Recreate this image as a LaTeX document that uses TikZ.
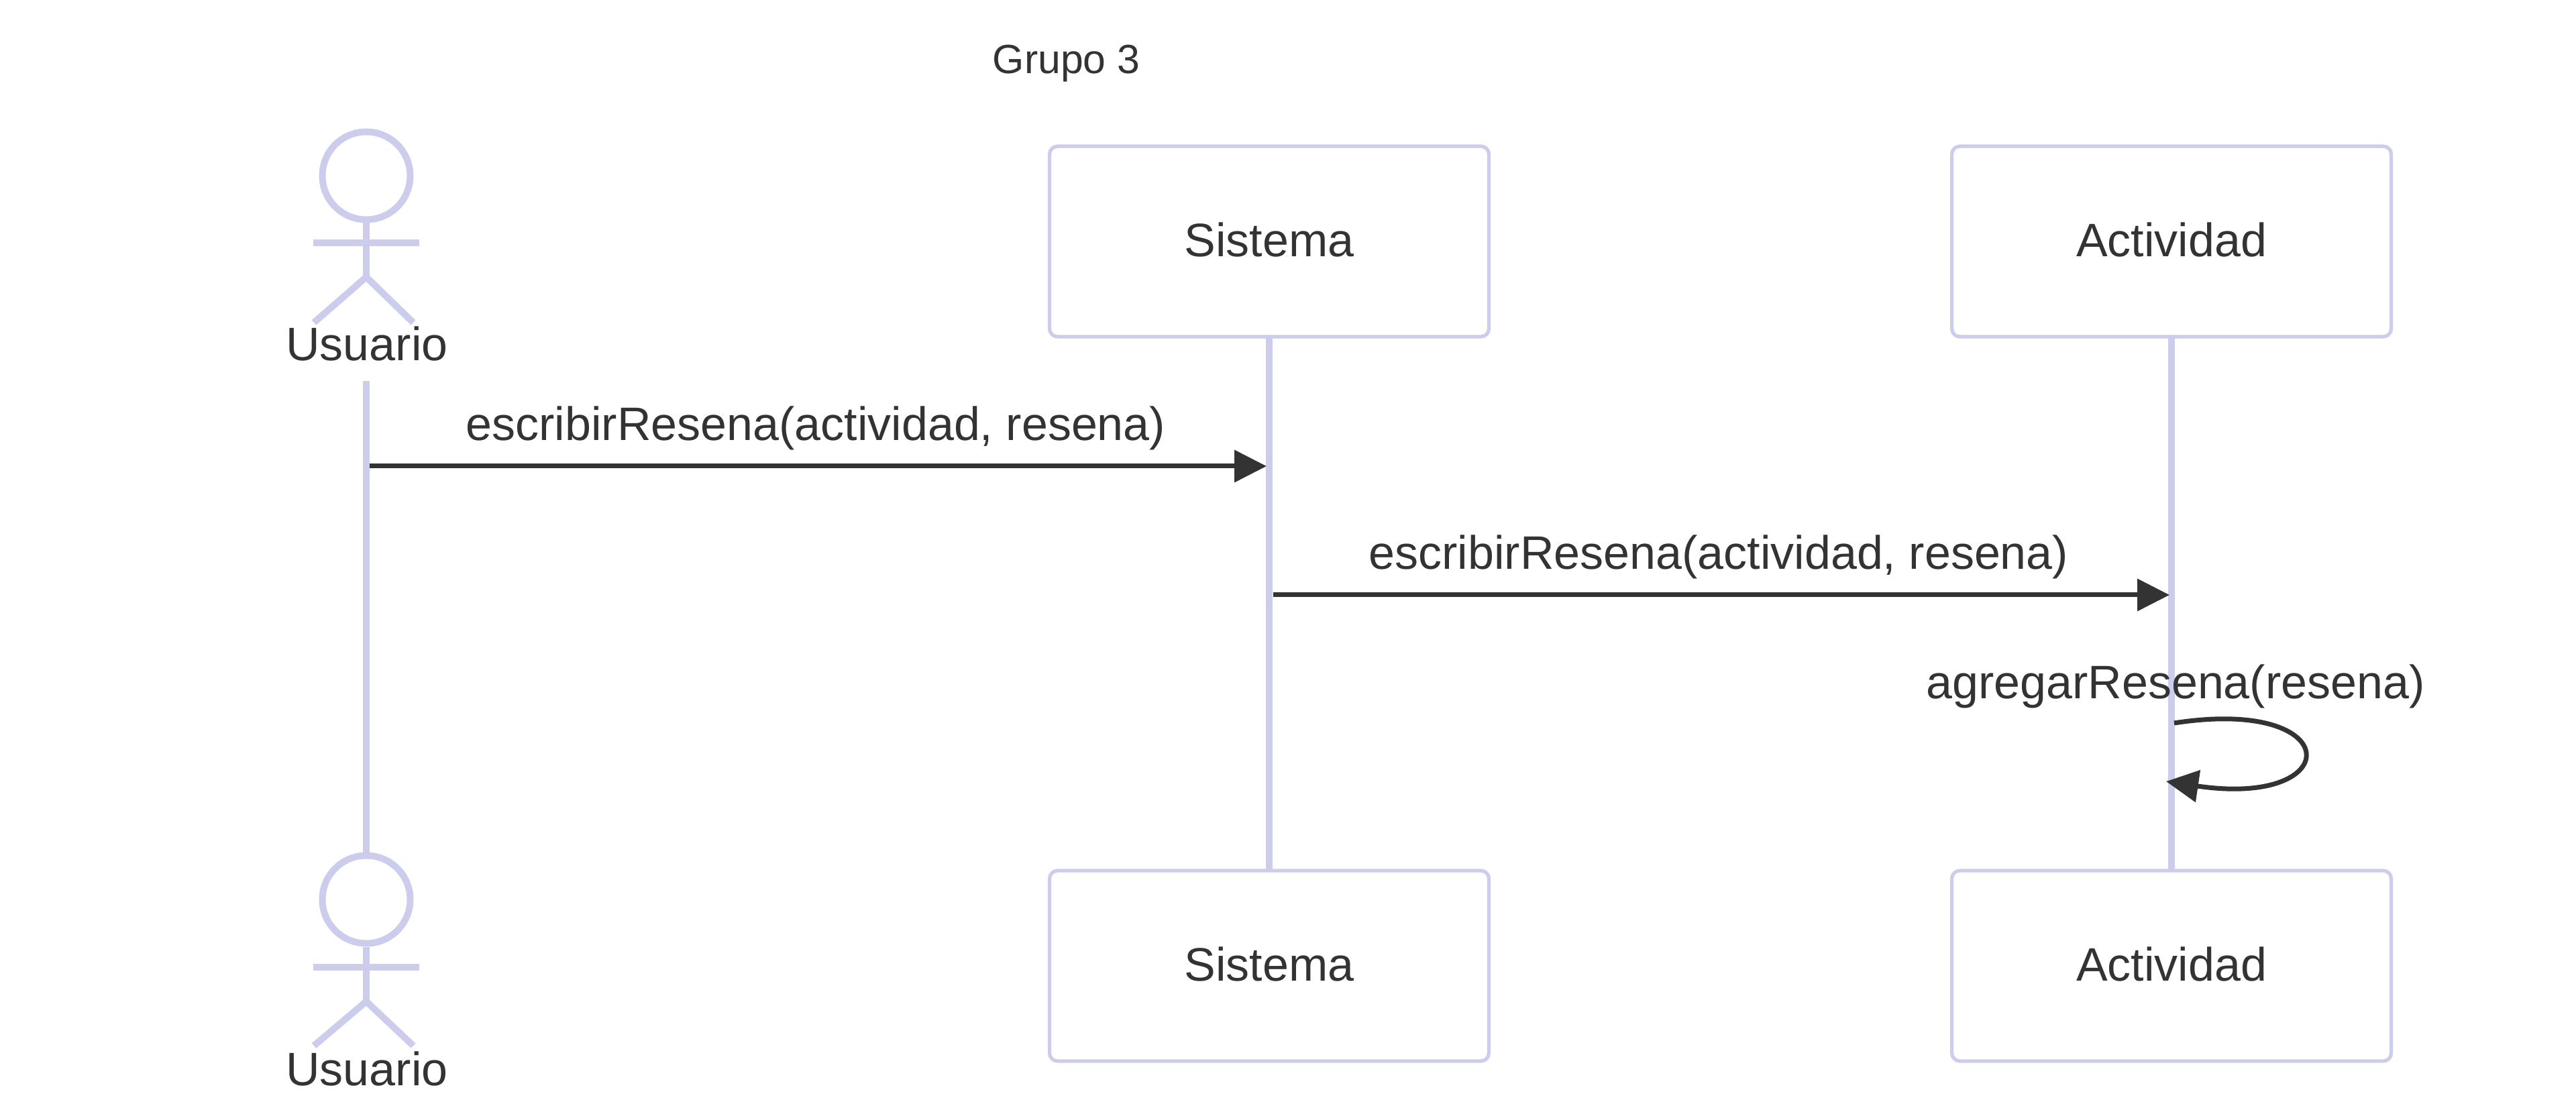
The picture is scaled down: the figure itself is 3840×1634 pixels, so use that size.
\documentclass[tikz,border=0pt]{standalone}
\usepackage{fontspec}
\setmainfont{Liberation Sans}
\usepackage{xcolor}
\usetikzlibrary{arrows.meta}
\definecolor{linea}{HTML}{CCCCEC}
\definecolor{texto}{HTML}{333333}

\begin{document}
\begin{tikzpicture}[
  x=0.25pt, y=-0.25pt,
  box/.style={draw=linea, line width=1.3pt, rounded corners=3pt, fill=white,
              minimum width=163.75pt, minimum height=71pt, inner sep=0pt,
              font=\fontsize{17.5pt}{20pt}\selectfont, text=texto,
              text height=12.5pt, text depth=1.25pt},
  head/.style={circle, draw=linea, line width=2.5pt, fill=white,
               minimum size=32.75pt, inner sep=0pt},
  limb/.style={draw=linea, line width=2.5pt},
  life/.style={draw=linea, line width=2.5pt},
  actorname/.style={anchor=base, inner sep=0pt, text=texto,
                    font=\fontsize{17.5pt}{20pt}\selectfont},
  msg/.style={anchor=base, inner sep=0pt, text=texto,
              font=\fontsize{17.5pt}{20pt}\selectfont},
  arr/.style={-{Triangle[length=12pt, width=11.75pt]}, line width=1.75pt, draw=texto, color=texto},
]
\useasboundingbox (0,0) rectangle (3840,1634);
\node[anchor=base west, inner sep=0pt, text=texto, font=\fontsize{15.2pt}{18pt}\selectfont]
  (title) at (1479,110) {Grupo 3};
% lifelines go first, the boxes sit on top
\coordinate (utop) at (546,568);
\coordinate (ubot) at (546,1276);
\coordinate (stop) at (1892,500);
\coordinate (sbot) at (1892,1298);
\coordinate (atop) at (3237,500);
\coordinate (abot) at (3237,1298);
\draw[life] (utop) -- (ubot);
\draw[life] (stop) -- (sbot);
\draw[life] (atop) -- (abot);

% actor, top
\node[head] (uh) at (546,262) {};
\coordinate (uhip) at (546,413);
\coordinate (ula) at (467,362);
\coordinate (ura) at (625,362);
\coordinate (ull) at (468,481);
\coordinate (url) at (616,481);
\draw[limb] (uh.south) -- (uhip);
\draw[limb] (ula) -- (ura);
\draw[limb] (ull) -- (uhip) -- (url);
\node[actorname] (un) at (547,538) {Usuario};

% actor, bottom
\node[head] (bh) at (546,1341) {};
\coordinate (bhip) at (546,1493);
\coordinate (bla) at (467,1442);
\coordinate (bra) at (625,1442);
\coordinate (bll) at (468,1559);
\coordinate (brl) at (616,1559);
\draw[limb] (bh.south) -- (bhip);
\draw[limb] (bla) -- (bra);
\draw[limb] (bll) -- (bhip) -- (brl);
\node[actorname] (bn) at (547,1618) {Usuario};

\node[box] (s) at (1892,360) {Sistema};
\node[box] (a) at (3237,360) {Actividad};
\node[box] (sb) at (1892,1440) {Sistema};
\node[box] (ab) at (3237,1440) {Actividad};

% messages
\coordinate (m1a) at (551,695);
\coordinate (m1b) at (1888,695);
\coordinate (m2a) at (1898,887);
\coordinate (m2b) at (3234,887);
\coordinate (m3a) at (3241,1078);
\coordinate (m3b) at (3229,1165);
\draw[arr] (m1a) -- (m1b);
\draw[arr] (m2a) -- (m2b);
\draw[arr] (m3a) .. controls (3498,1038) and (3498,1205) .. (m3b);
\node[msg] (l1) at (1216,657) {escribirResena(actividad, resena)};
\node[msg] (l2) at (2562,849) {escribirResena(actividad, resena)};
\node[msg] (l3) at (3243,1041) {agregarResena(resena)};
\end{tikzpicture}
\end{document}
